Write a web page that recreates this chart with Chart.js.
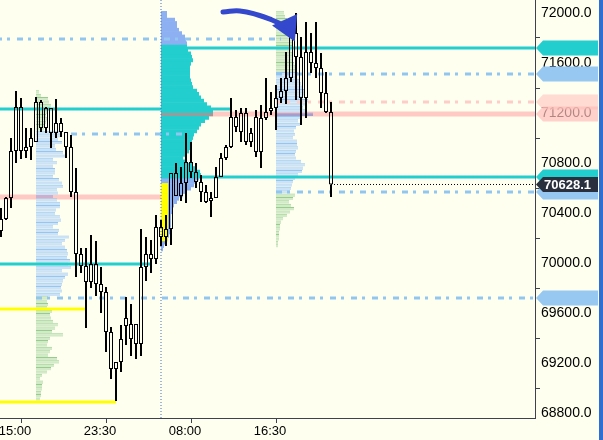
<!DOCTYPE html>
<html>
<head>
<meta charset="utf-8">
<title>Chart</title>
<script src="https://cdn.jsdelivr.net/npm/chart.js@4.4.1/dist/chart.umd.min.js"></script>
<style>
  html, body { margin: 0; padding: 0; background: #fffff0; overflow: hidden; }
  #box { width: 599px; height: 440px; border-right: 4px solid #2f6fd2; background: #fffff0; }
</style>
</head>
<body>
<div id="box"><canvas id="myChart" width="599" height="440"></canvas></div>
<script>
// 30 min candles, the first one is 13:00
const candleOpen = [
    70256, 70352, 70520, 70896, 71248, 70896, 70928, 70968, 71288, 71080,
    71240, 71040, 71120, 71048, 70928, 70568, 70072, 69976, 69848, 69992,
    69832, 69768, 69448, 69152, 69208, 69496, 69512, 69352, 69352, 69968,
    70072, 70032, 70288, 70208, 70272, 70720, 70536, 70640, 70808, 70728,
    70648, 70568, 70496, 70520, 70688, 70840, 70928, 71168, 71048, 71200,
    70968, 70888, 71160, 71160, 71216, 71240, 71320, 71376, 71480, 71840,
    71648, 71320, 71688, 71600, 71560, 71360, 71208
];
const candleHigh = [
    70440, 70528, 71000, 71376, 71320, 71080, 71080, 71328, 71304, 71248,
    71240, 71312, 71160, 71048, 71024, 70760, 70120, 70120, 70224, 70176,
    69968, 69808, 69488, 69208, 69504, 69728, 69672, 69512, 70272, 70208,
    70184, 70384, 70344, 70384, 70720, 70800, 70768, 71040, 70968, 70800,
    70704, 70624, 70568, 70768, 70880, 70944, 71320, 71224, 71240, 71240,
    71080, 71224, 71264, 71480, 71368, 71424, 71480, 71688, 71944, 72000,
    71808, 71928, 71840, 71928, 71680, 71528, 71288
];
const candleLow = [
    70208, 70344, 70440, 70800, 70832, 70840, 70824, 70968, 71048, 71040,
    70920, 71000, 71008, 70840, 70528, 69888, 69920, 69480, 69800, 69736,
    69600, 69288, 69072, 68896, 69128, 69344, 69256, 69232, 69256, 69856,
    69920, 69992, 70136, 70136, 70144, 70536, 70496, 70480, 70680, 70600,
    70488, 70480, 70368, 70520, 70688, 70824, 70920, 71048, 70968, 70944,
    70928, 70848, 70760, 71144, 71184, 71064, 71280, 71272, 71448, 71304,
    71104, 71160, 71520, 71480, 71240, 71200, 70528
];
const candleClose = [
    70352, 70520, 70896, 71248, 70896, 70928, 71000, 71288, 71080, 71240,
    71040, 71120, 71048, 70928, 70568, 70072, 69976, 69848, 69992, 69832,
    69768, 69448, 69152, 69208, 69392, 69560, 69392, 69512, 69968, 70072,
    70032, 70288, 70208, 70272, 70720, 70536, 70640, 70808, 70728, 70648,
    70568, 70488, 70520, 70688, 70840, 70928, 71168, 71088, 71200, 70968,
    71040, 71168, 70888, 71208, 71240, 71320, 71376, 71480, 71840, 71648,
    71320, 71688, 71600, 71560, 71360, 71208, 70628.1
];

const tickIndex = [4, 21, 38, 55];
const tickLabels = ['15:00', '23:30', '08:00', '16:30'];
const priceTicks = [68800, 69200, 69600, 70000, 70400, 70800, 71200, 71600, 72000];

// levels: price, first candle, last candle (null = up to the right edge)
const cyanLevels = [71720, 71232, 70688, 69992];
const cyanFrom = [32, -1, 32, -1];
const cyanTo = [null, 46, null, 30];
const pinkLevels = [71192, 70528];
const pinkFrom = [32, -1];
const pinkTo = [null, 32];
const pinkDashLevels = [71288];
const pinkDashFrom = [55];
const pinkDashTo = [null];
const blueDashLevels = [71792, 71512, 71032, 70568, 69720];
const blueDashFrom = [-1, 55, 14, 55, 7];
const blueDashTo = [56, null, 37, null, null];
const yellowLevels = [69632, 68888];
const yellowFrom = [-1, -1];
const yellowTo = [17, 23];
const lastPrice = 70628.1;
const sessionStart = 32;

// volume profiles, one row every 27 pts from the top price down
const profile1Vol = [
    3, 5, 12, 13, 15, 14, 12, 10, 11, 10, 9, 8,
    24, 24, 22, 26, 19, 20, 27, 29, 17, 21, 17, 19, 19, 17, 23, 26, 27, 21, 22, 17,
    21, 24, 24, 20, 19, 24, 25, 22, 17, 23, 22, 33, 29, 26, 29, 31, 32, 31, 34, 32,
    35, 26, 32, 29, 27, 26, 25, 26, 24,
    12, 11, 12, 11, 16, 14, 15, 17, 22, 19, 16, 27, 14, 12, 11, 16, 14, 12, 21, 23,
    18, 15, 11, 6, 4, 7, 6, 6, 5, 5, 4
];
const profile2Vol = [
    6, 6, 14, 16, 16, 18, 21, 24, 25, 26,
    26, 27, 30, 31, 32, 30, 29, 29, 29, 29, 30, 31, 32, 36, 38, 40, 43, 46, 50, 52,
    52, 48, 44, 40, 38, 36, 33, 32, 31, 30, 29, 28, 24, 22, 25, 31, 36, 39, 40,
    38, 35, 33, 30, 26, 22, 18, 16, 13, 12, 11, 10, 10, 10, 10, 9, 9, 8, 7, 4, 3, 2
];
const profile3Vol = [
    8, 9, 11, 12, 12, 14, 15, 16, 16, 17, 16, 15, 16, 17, 17, 18, 19, 20,
    22, 21, 24, 25, 26, 29, 28, 27, 32, 30, 27, 29, 37, 24, 22, 24, 20, 18, 19, 17,
    21, 21, 22, 20, 19, 20, 25, 29, 27, 26, 22, 19, 17, 16, 15, 14,
    19, 17, 13, 15, 18, 14, 11, 7, 5, 4, 4, 3, 3, 3, 2, 2
];
const profileTop = [71368, 72000, 72000];
const profileStart = [7, 32, 55];
const profileVAH = [71050, 71735, 71520];
const profileVAL = [69740, 70690, 70560];
const profilePOC = [70531, 71190, 71190];
const openRangeHigh = 70640;
const openRangeLow = 70176;
const openRangeVol = 7;

// hand drawn arrow (candle index, price), last point is the head
const arrowX = [44.4, 47.8, 51.4, 54.2, 56.4, 57.4];
const arrowY = [72008, 72016, 71984, 71944, 71904, 71888];

const X_MIN = -0.2, X_MAX = 106.8, Y_MIN = 68760, Y_MAX = 72104;
const ROW = 27, VOL_X = 0.2;
const datasets = [];

function addLevels(levels, from, to, color, width, dash, order) {
    levels.forEach(function(v, i){
        datasets.push({
            type: 'line',
            data: [{x: from[i], y: v}, {x: to[i] === null ? X_MAX : to[i], y: v}],
            borderColor: color, borderWidth: width, borderDash: dash,
            pointRadius: 0, fill: false, order: order
        });
    });
}

function addProfile(p, vols, look) {
    const va = [], out = [], poc = [];
    vols.forEach(function(v, i){
        const price = profileTop[p] - i * ROW;
        const row = {y: price, x: [profileStart[p], profileStart[p] + v * VOL_X]};
        if (Math.abs(price - profilePOC[p]) < ROW / 2) poc.push(row);
        else if (price <= profileVAH[p] && price >= profileVAL[p]) va.push(row);
        else out.push(row);
    });
    [[va, look.va, look.vaLine], [out, look.out, look.outLine], [poc, look.poc, look.poc]].forEach(function(s){
        datasets.push({
            type: 'bar', indexAxis: 'y', data: s[0],
            backgroundColor: s[1], borderColor: s[2],
            borderWidth: look.striped ? {top: 1, left: 0, right: 0, bottom: 0} : 0,
            borderSkipped: false, barThickness: look.striped ? 3.4 : 4, grouped: false, inflateAmount: 0, order: 20
        });
    });
}

// profiles
addProfile(0, profile1Vol, {va: 'rgb(204,226,247)', vaLine: 'rgb(150,198,240)', out: 'rgb(210,234,200)', outLine: 'rgb(150,205,140)', poc: 'rgb(205,175,205)', striped: true});
addProfile(1, profile2Vol, {va: 'rgb(34,206,206)', vaLine: 'rgb(34,206,206)', out: 'rgb(140,176,242)', outLine: 'rgb(140,176,242)', poc: 'rgb(168,150,150)', striped: false});
addProfile(2, profile3Vol, {va: 'rgb(204,226,247)', vaLine: 'rgb(150,198,240)', out: 'rgb(210,234,200)', outLine: 'rgb(150,205,140)', poc: 'rgb(165,158,205)', striped: true});

const openRows = profile2Vol.map(function(v, i){ return profileTop[1] - i * ROW; })
    .filter(function(price){ return price <= openRangeHigh && price >= openRangeLow; })
    .map(function(price){ return {y: price, x: [profileStart[1], profileStart[1] + openRangeVol * VOL_X]}; });
datasets.push({type: 'bar', indexAxis: 'y', data: openRows, backgroundColor: 'rgb(255,255,0)', borderWidth: 0,
    barThickness: 4, grouped: false, inflateAmount: 0, order: 15});

// levels
addLevels(pinkLevels, pinkFrom, pinkTo, 'rgb(255,202,196)', 5, [], 30);
addLevels(cyanLevels, cyanFrom, cyanTo, 'rgb(34,206,206)', 3, [], 10);
addLevels(pinkDashLevels, pinkDashFrom, pinkDashTo, 'rgb(255,205,200)', 3, [6, 5, 3, 7], 10);
addLevels(blueDashLevels, blueDashFrom, blueDashTo, 'rgb(145,198,240)', 3, [6, 5, 3, 7], 10);
addLevels(yellowLevels, yellowFrom, yellowTo, 'rgb(255,255,0)', 3, [], 10);
addLevels([lastPrice], [candleOpen.length - 1], [null], '#000', 1, [1, 2], 10);
datasets.push({type: 'line', data: [{x: sessionStart, y: Y_MIN}, {x: sessionStart, y: Y_MAX}],
    borderColor: 'rgb(70,110,200)', borderWidth: 1, borderDash: [1, 2], pointRadius: 0, order: 9});

// candles: wicks and hollow bodies
const idx = candleOpen.map(function(_, i){ return i; });
datasets.push({type: 'bar', data: idx.map(function(i){ return {x: i, y: [candleLow[i], Math.min(candleOpen[i], candleClose[i])]}; }),
    backgroundColor: '#000', borderWidth: 0, barThickness: 2, grouped: false, inflateAmount: 0, order: 1});
datasets.push({type: 'bar', data: idx.map(function(i){ return {x: i, y: [Math.max(candleOpen[i], candleClose[i]), candleHigh[i]]}; }),
    backgroundColor: '#000', borderWidth: 0, barThickness: 2, grouped: false, inflateAmount: 0, order: 1});
datasets.push({type: 'bar', data: idx.map(function(i){ return {x: i, y: [candleOpen[i], candleClose[i]]}; }),
    backgroundColor: 'rgba(0,0,0,0)', borderColor: '#000', borderWidth: 1, borderSkipped: false,
    barThickness: 4, grouped: false, inflateAmount: 0, order: 0});

// arrow
const lastArrow = arrowX.length - 1;
datasets.push({type: 'line', data: arrowX.map(function(x, i){ return {x: x, y: arrowY[i]}; }),
    borderColor: 'rgb(52,72,205)', borderWidth: 5, tension: 0.45, borderCapStyle: 'round',
    pointRadius: arrowX.map(function(_, i){ return i === lastArrow ? 11 : 0; }),
    pointStyle: 'triangle', pointRotation: 155, pointBackgroundColor: 'rgb(52,72,205)',
    pointBorderColor: 'rgb(52,72,205)', order: -1, clip: false});

// price tags on the right axis
const tagPlugin = {
    id: 'tags',
    afterDraw: function(chart) {
        const ctx = chart.ctx, ys = chart.scales.y;
        const x0 = chart.chartArea.right + 1, x1 = chart.width - 1;
        function tag(v, fill) {
            const py = ys.getPixelForValue(v);
            ctx.beginPath();
            ctx.moveTo(x0, py);
            ctx.lineTo(x0 + 7, py - 7.5);
            ctx.lineTo(x1, py - 7.5);
            ctx.lineTo(x1, py + 7.5);
            ctx.lineTo(x0 + 7, py + 7.5);
            ctx.closePath();
            ctx.fillStyle = fill;
            ctx.fill();
            return py;
        }
        ctx.save();
        pinkDashLevels.forEach(function(v, i){ if (pinkDashTo[i] === null) tag(v, 'rgba(255,195,190,0.6)'); });
        pinkLevels.forEach(function(v, i){ if (pinkTo[i] === null) tag(v, 'rgba(255,190,185,0.7)'); });
        blueDashLevels.forEach(function(v, i){ if (blueDashTo[i] === null) tag(v, 'rgb(150,200,242)'); });
        cyanLevels.forEach(function(v, i){ if (cyanTo[i] === null) tag(v, 'rgb(34,206,206)'); });
        const py = tag(lastPrice, 'rgb(42,48,62)');
        ctx.fillStyle = '#fff';
        ctx.font = 'bold 13px "Liberation Sans"';
        ctx.textBaseline = 'middle';
        ctx.fillText(lastPrice.toFixed(1), x0 + 8, py + 0.5);
        ctx.restore();
    }
};

function noPad(s) {
    s.paddingTop = 0; s.paddingBottom = 0; s.paddingLeft = 0; s.paddingRight = 0;
}

new Chart(document.getElementById('myChart'), {
    type: 'bar',
    data: {datasets: datasets},
    options: {
        responsive: false,
        animation: false,
        events: [],
        layout: {padding: 0, autoPadding: false},
        plugins: {legend: {display: false}, tooltip: {enabled: false}},
        scales: {
            x: {
                type: 'linear', min: X_MIN, max: X_MAX, offset: false,
                grid: {drawOnChartArea: false, drawTicks: true, tickLength: 5, color: '#3c4250', offset: false},
                border: {color: '#3c4250', width: 1},
                ticks: {
                    font: {family: 'Liberation Sans', size: 13}, color: '#000', padding: 1,
                    labelOffset: -6, maxRotation: 0, autoSkip: false,
                    callback: function(v){ return tickLabels[tickIndex.indexOf(v)]; }
                },
                afterBuildTicks: function(s){ s.ticks = tickIndex.map(function(v){ return {value: v}; }); },
                afterFit: function(s){ s.height = 22; noPad(s); }
            },
            y: {
                type: 'linear', position: 'right', min: Y_MIN, max: Y_MAX, offset: false,
                grid: {drawOnChartArea: false, drawTicks: true, tickLength: 5, color: '#3c4250'},
                border: {color: '#3c4250', width: 1},
                ticks: {
                    font: {family: 'Liberation Sans', size: 14}, color: '#000', padding: 1,
                    callback: function(v){ return v.toFixed(1); }
                },
                afterBuildTicks: function(s){ s.ticks = priceTicks.map(function(v){ return {value: v}; }); },
                afterFit: function(s){ s.width = 64; noPad(s); }
            }
        }
    },
    plugins: [tagPlugin]
});
</script>
</body>
</html>
